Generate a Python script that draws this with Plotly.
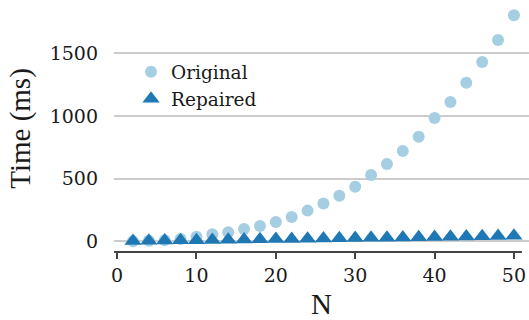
import plotly.graph_objects as go

N = [2, 4, 6, 8, 10, 12, 14, 16, 18, 20, 22, 24, 26, 28, 30, 32, 34, 36, 38, 40, 42, 44, 46, 48, 50]
original = [2, 5, 10, 20, 38, 57, 73, 100, 124, 155, 195, 246, 302, 365, 437, 530, 618, 722, 836, 985, 1112, 1266, 1431, 1607, 1804]
repaired = [4, 6, 7, 9, 10, 12, 14, 15, 17, 19, 20, 22, 24, 25, 27, 29, 30, 32, 34, 35, 37, 39, 41, 43, 46]
xticks = [0, 10, 20, 30, 40, 50]
yticks = [0, 500, 1000, 1500]

TICKFONT = "DejaVu Serif"
TITLEFONT = "Liberation Serif"
INK = "#1a1a1a"

fig = go.Figure()
fig.add_trace(go.Scatter(x=N, y=original, mode="markers", name="Original",
                         marker=dict(symbol="circle", size=12, color="#a6cee3")))
fig.add_trace(go.Scatter(x=N, y=repaired, mode="markers", name="Repaired",
                         marker=dict(symbol="triangle-up", size=15, color="#1f78b4")))

fig.add_shape(type="line", xref="x", yref="paper", x0=-0.39, x1=51.0, y0=0, y1=0,
              line=dict(color="#444444", width=2))

fig.update_layout(
    width=529, height=320,
    margin=dict(l=114, r=0, t=5, b=68),
    paper_bgcolor="white", plot_bgcolor="white",
    font=dict(family=TICKFONT, size=19, color=INK),
    showlegend=True,
    legend=dict(x=0.041, y=0.805, xanchor="left", yanchor="top",
                bgcolor="rgba(0,0,0,0)", font=dict(size=18.5, family=TICKFONT, color=INK),
                itemsizing="trace", tracegroupgap=0),
    xaxis=dict(range=[-0.39, 51.9], tickvals=xticks, showgrid=False, zeroline=False,
               showline=False, ticks="outside", ticklen=6, tickwidth=1.5, tickcolor="#444444",
               title=dict(text="N", font=dict(size=29, family=TITLEFONT, color=INK), standoff=10),
               tickfont=dict(size=19, family=TICKFONT, color=INK)),
    yaxis=dict(range=[-84, 1886], tickvals=yticks, showgrid=True, gridcolor="#cccccc", gridwidth=1.5,
               zeroline=False, showline=False, ticks="",
               title=dict(text="Time (ms)", font=dict(size=29, family=TITLEFONT, color=INK), standoff=10),
               tickfont=dict(size=19, family=TICKFONT, color=INK), ticklabelstandoff=15),
)

fig.write_html("out.html")
